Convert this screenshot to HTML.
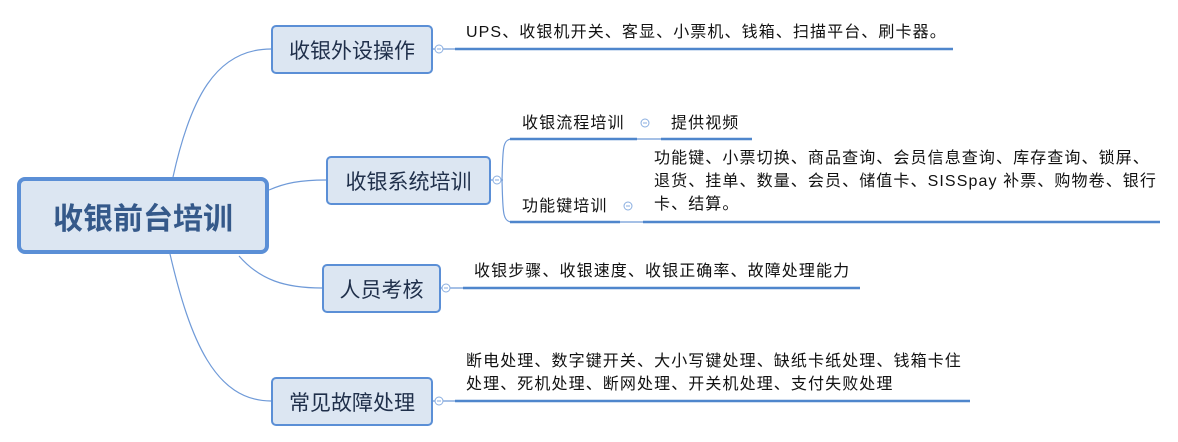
<!DOCTYPE html>
<html><head><meta charset="utf-8"><style>
body{margin:0;width:1178px;height:442px;background:#fff;position:relative;overflow:hidden;font-family:"Liberation Sans","Noto Sans CJK SC",sans-serif;}
.b{position:absolute;box-sizing:border-box;background:#dce6f2;border:2px solid #5b8fd6;border-radius:5px;display:flex;align-items:center;justify-content:center;color:#1f2f4a;font-size:21px;}
.t{position:absolute;font-size:16px;color:#111;white-space:nowrap;line-height:23px;letter-spacing:1.1px;}
</style></head><body>
<svg width="1178" height="442" style="position:absolute;left:0;top:0">
<g fill="none" stroke="#6f9ad8" stroke-width="1.2">
<path d="M173 177 C190 100 215 49 271 49"/>
<path d="M269 190 C285 183 300 180 326 180"/>
<path d="M239 256 C260 280 285 288 322 288"/>
<path d="M170 254 C190 340 215 401 271 401"/>
<path d="M512 139 C502 139 503 150 502 180 C503 210 502 222 512 222"/>
<line x1="490" y1="180" x2="503" y2="180"/>
<line x1="432" y1="49" x2="455" y2="49"/>
<line x1="440" y1="288" x2="463" y2="288"/>
<line x1="432" y1="401" x2="455" y2="401"/>
<line x1="637" y1="139" x2="661" y2="139"/>
<line x1="620" y1="222" x2="643" y2="222"/>
</g>
<g stroke="#4f86cc" stroke-width="2.5">
<line x1="455" y1="49" x2="953" y2="49"/>
<line x1="510" y1="139" x2="637" y2="139"/>
<line x1="661" y1="139" x2="752" y2="139"/>
<line x1="510" y1="222" x2="620" y2="222"/>
<line x1="643" y1="222" x2="1160" y2="222"/>
<line x1="463" y1="288" x2="860" y2="288"/>
<line x1="455" y1="401" x2="970" y2="401"/>
</g>
<g fill="#fff" stroke="#8aaee0" stroke-width="1">
<circle cx="439" cy="49" r="4"/><circle cx="497" cy="180" r="4"/><circle cx="446" cy="288" r="4"/><circle cx="439" cy="401" r="4"/>
<circle cx="645" cy="123" r="4"/><circle cx="628" cy="206" r="4"/>
</g>
<g stroke="#8aaee0" stroke-width="1">
<line x1="437" y1="49" x2="441" y2="49"/><line x1="495" y1="180" x2="499" y2="180"/><line x1="444" y1="288" x2="448" y2="288"/><line x1="437" y1="401" x2="441" y2="401"/><line x1="643" y1="123" x2="647" y2="123"/><line x1="626" y1="206" x2="630" y2="206"/>
</g>
</svg>
<div class="b" style="left:17px;top:177px;width:252px;height:77px;border-width:4px;border-radius:8px;font-size:30px;font-weight:bold;color:#35598a;">收银前台培训</div>
<div class="b" style="left:271px;top:25px;width:162px;height:49px;">收银外设操作</div>
<div class="b" style="left:326px;top:156px;width:165px;height:49px;">收银系统培训</div>
<div class="b" style="left:322px;top:264px;width:119px;height:49px;">人员考核</div>
<div class="b" style="left:271px;top:377px;width:162px;height:49px;">常见故障处理</div>
<div class="t" style="left:466px;top:21px;">UPS、收银机开关、客显、小票机、钱箱、扫描平台、刷卡器。</div>
<div class="t" style="left:522px;top:112px;">收银流程培训</div>
<div class="t" style="left:671px;top:112px;">提供视频</div>
<div class="t" style="left:522px;top:195px;">功能键培训</div>
<div class="t" style="left:654px;top:147px;">功能键、小票切换、商品查询、会员信息查询、库存查询、锁屏、<br>退货、挂单、数量、会员、储值卡、SISSpay 补票、购物卷、银行<br>卡、结算。</div>
<div class="t" style="left:474px;top:260px;">收银步骤、收银速度、收银正确率、故障处理能力</div>
<div class="t" style="left:466px;top:350px;">断电处理、数字键开关、大小写键处理、缺纸卡纸处理、钱箱卡住<br>处理、死机处理、断网处理、开关机处理、支付失败处理</div>
</body></html>
